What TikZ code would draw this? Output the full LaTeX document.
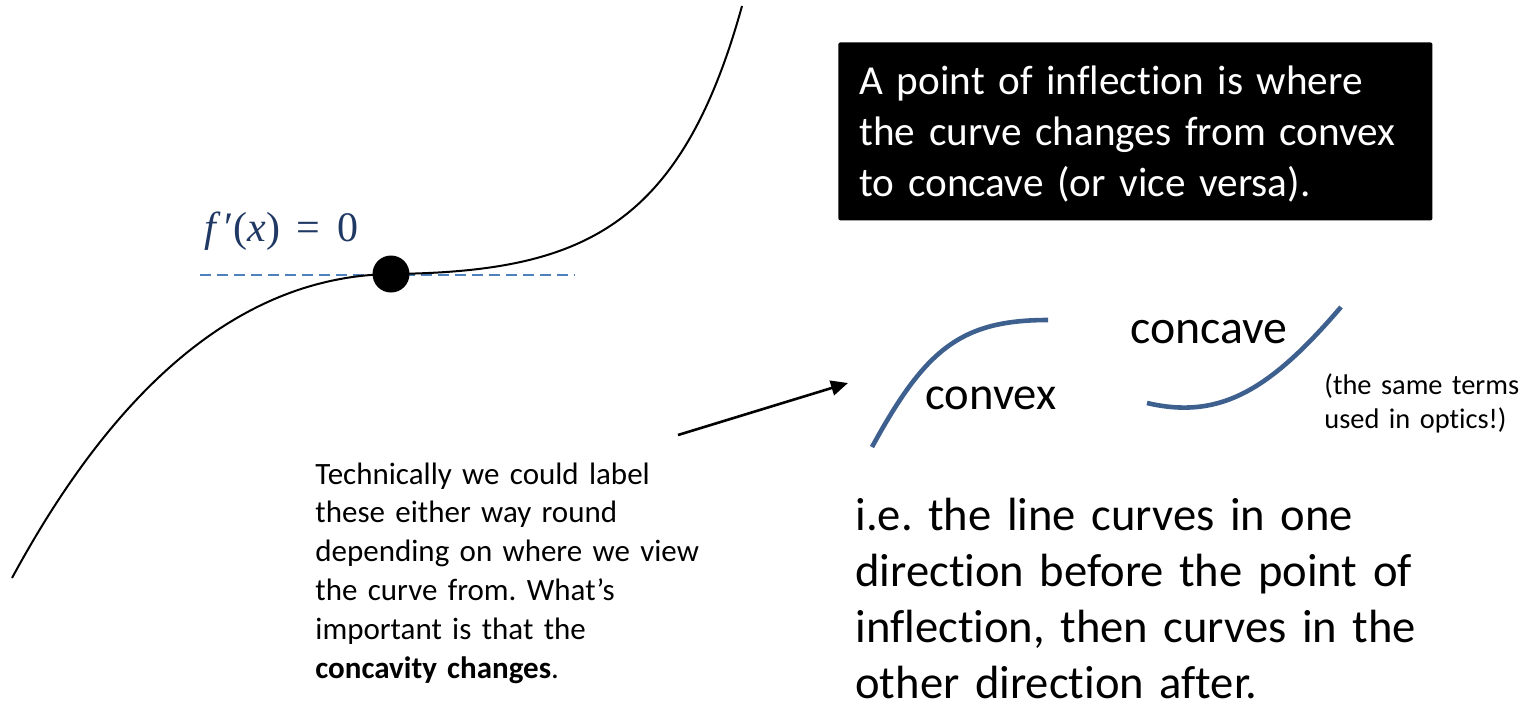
\documentclass[tikz,border=0pt]{standalone}
\usepackage{fontspec}
\setmainfont{Carlito}[Ligatures=NoCommon]
\newfontfamily\mathfont{Liberation Serif}
\usetikzlibrary{arrows.meta}
\definecolor{dashblue}{RGB}{79,129,189}
\definecolor{curveblue}{RGB}{61,96,143}
\definecolor{mathblue}{RGB}{31,56,100}
\frenchspacing
\begin{document}
\begin{tikzpicture}[x=0.5pt,y=-0.5pt,
  para/.style={anchor=base west, inner sep=0pt, align=left},
  smallcurve/.style={curveblue, line width=2.3pt},
  ]
\useasboundingbox (0,0) rectangle (1536,708);
% tangent line
\coordinate (dl) at (200,275);
\coordinate (dr) at (575,275);
\draw[dashblue, line width=0.85pt, dash pattern=on 5.5pt off 3pt] (dl) -- (dr);
% main curve
\draw[line width=1pt] (12,578) .. controls (130,360) and (260,276) .. (391,274)
  .. controls (580,272) and (680,230) .. (742,6);
\node[circle, fill=black, inner sep=0pt, minimum size=18.5pt] (ip) at (391,274) {};
\node[anchor=base west, inner sep=0pt, text=mathblue, font=\mathfont\fontsize{21}{25}\selectfont] (fx) at (204,241) {\textit{f}\kern0.08em′(\textit{x})\hspace{0.4em}=\hspace{0.4em}0};
% definition box
\node[fill=black, rounded corners=1pt, anchor=north west, inner sep=0pt, minimum width=297pt, minimum height=89pt] (box) at (838,42) {};
\node[para, text=white, text width=290pt, font=\fontsize{20.6}{25.5}\selectfont] (boxt) at (859,94.5) {A point of inflection is where\\the curve changes from convex\\to concave (or vice versa).};
% small curves
\draw[smallcurve] (872,447) .. controls (925,350) and (960,320) .. (1048,320);
\draw[smallcurve] (1147,403) .. controls (1220,420) and (1270,390) .. (1341,307);
\node[para, font=\fontsize{23.3}{27}\selectfont] (convex) at (925,409) {convex};
\node[para, font=\fontsize{23.9}{27}\selectfont] (concave) at (1130,343) {concave};
\node[para, text width=110pt, font=\fontsize{14.2}{17}\selectfont] (optics) at (1324,394) {(the same terms\\used in optics!)};
% arrow
\coordinate (as) at (678,435);
\coordinate (ae) at (848,383);
\draw[line width=1.3pt, -{Triangle[length=8.5pt,width=7.5pt]}] (as) -- (ae);
% note
\node[para, text width=200pt, font=\fontsize{15.5}{19.4}\selectfont] (note) at (315,484) {Technically we could label\\these either way round\\depending on where we view\\the curve from. What’s\\important is that the\\\textbf{concavity changes}.};
% explanation
\node[para, text width=340pt, font=\fontsize{23.3}{28.15}\selectfont] (ie) at (855,530) {i.e. the line curves in one\\direction before the point of\\inflection, then curves in the\\other direction after.};
\end{tikzpicture}
\end{document}
